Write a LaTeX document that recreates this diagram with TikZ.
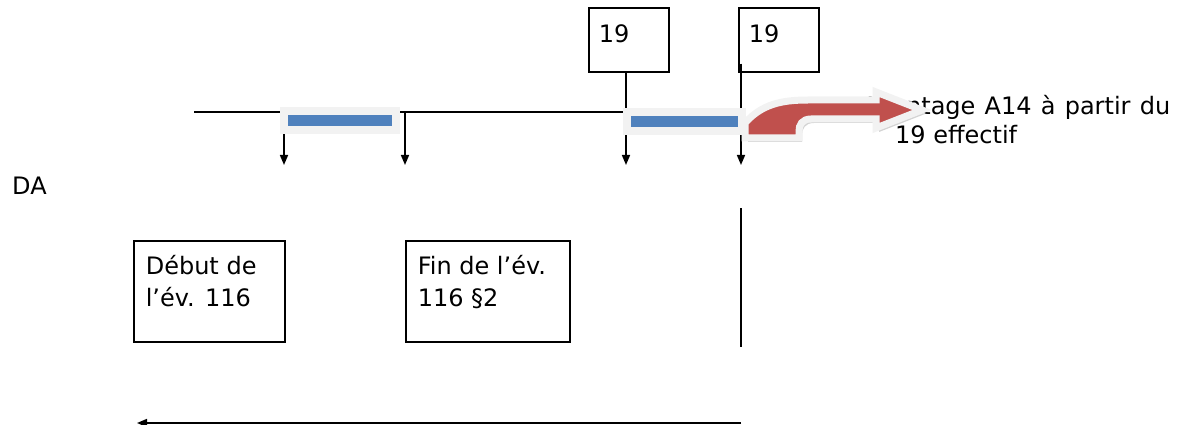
\documentclass[tikz,border=0pt]{standalone}
\usepackage{fontspec}
\setmainfont{DejaVu Sans}
\usetikzlibrary{arrows.meta,shadows}
\definecolor{barblue}{HTML}{4F81BD}
\definecolor{arrred}{HTML}{C0504D}
\definecolor{glow}{HTML}{F2F2F2}
\newcommand{\boxtxt}[4]{\begin{minipage}[t][#1][t]{#2}\raggedright\rule{0pt}{#3}#4\end{minipage}}
\begin{document}
\begin{tikzpicture}[
        x=1pt, y=-1pt,
        font=\fontsize{24}{32}\selectfont,
        plain/.style={line width=1.6pt},
        conn/.style={plain,-{Triangle[length=10pt,width=8pt]}},
        bar/.style={draw=glow, line width=8pt, fill=barblue, minimum height=19pt, inner sep=0pt,
            drop shadow={shadow xshift=3pt, shadow yshift=-4pt, opacity=0.45, fill=gray!70!blue!60}},
        numbox/.style={draw, plain, inner xsep=10pt, inner ysep=0pt, anchor=north west},
        evbox/.style={draw, plain, inner xsep=12pt, inner ysep=0pt, anchor=north west},
        redarrow/.style={fill=arrred, draw=glow, line width=7pt, miter limit=4,
            drop shadow={shadow xshift=3pt, shadow yshift=-4pt, opacity=0.35, fill=gray}}
    ]
    \useasboundingbox (0,0) rectangle (1184,425);
    % boxes with dates
    \node[numbox] (n1) at (588,7) {\boxtxt{64pt}{60pt}{35pt}{19}};
    \node[numbox] (n2) at (738,7) {\boxtxt{64pt}{60pt}{35pt}{19}};
    \node[evbox] (debut) at (133,240) {\boxtxt{101pt}{127pt}{34pt}{Début de\\l’év. 116}};
    \node[evbox] (fin) at (405,240) {\boxtxt{101pt}{140pt}{34pt}{Fin de l’év.\\116 §2}};
    \node[anchor=base west, inner sep=0pt] (da) at (12,195) {DA};
    % time line
    \coordinate (l0) at (194,112);
    \coordinate (t1) at (284,165);
    \coordinate (t2) at (405,165);
    \draw[plain] (l0) -- (745,112);
    \draw[conn] (t1 |- l0) -- (t1);
    \draw[conn] (t2 |- l0) -- (t2);
    \draw[conn] (n1.south -| 626,0) -- (626,165);
    \draw[conn] ([xshift=3pt,yshift=9pt]n2.south west) -- (741,165);
    \node[bar, minimum width=112pt] (bar1) at (340,121) {};
    \node[bar, minimum width=115pt] (bar2) at (684,121.5) {};
    % text and red arrow
    \node[anchor=base west, inner sep=0pt] (avantage) at (862,115) {\makebox[308pt][s]{Avantage A14 à partir du}};
    \node[anchor=base west, inner sep=0pt] (effectif) at (895,144) {19 effectif};
    \path[redarrow] (745,138) -- (745,123) .. controls (762,104) and (782,100) .. (808,100)
        -- (876,100) -- (876,92) -- (922,110) -- (876,128) -- (876,119) -- (811,119)
        .. controls (802,119) and (799,125) .. (799,131) -- (799,138) -- cycle;
    % bottom
    \coordinate (v0) at (741,208);
    \coordinate (v1) at (741,347);
    \draw[plain] (v0) -- (v1);
    \coordinate (b0) at (137,423);
    \coordinate (b1) at (741,423);
    \draw[conn] (b1) -- (b0);
\end{tikzpicture}
\end{document}
